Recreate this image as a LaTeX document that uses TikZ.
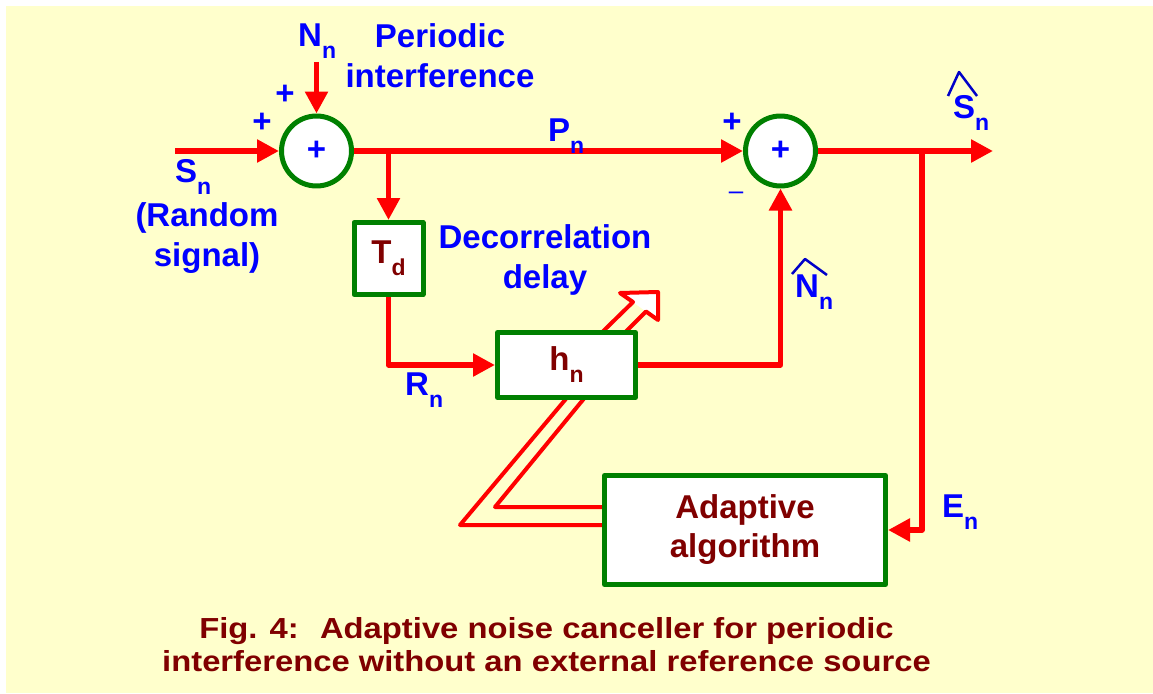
\documentclass[tikz,border=0pt]{standalone}
\usepackage{fontspec}
\setmainfont{Liberation Sans}
\newfontfamily\capfont[FakeStretch=1.13]{Liberation Sans}
\usetikzlibrary{arrows.meta}
\definecolor{sigred}{HTML}{FF0000}
\definecolor{blkgreen}{HTML}{008000}
\definecolor{lblblue}{HTML}{0000FF}
\definecolor{hatblue}{HTML}{0000C8}
\definecolor{txtmaroon}{HTML}{800000}
\definecolor{slidebg}{HTML}{FFFFCC}
% lowered subscript, as on the slide
\newcommand\sbs[1]{\raisebox{-12pt}{\fontsize{23}{23}\selectfont #1}}

\begin{document}
\begin{tikzpicture}[x=1pt,y=-1pt,line join=round,
  sig/.style={sigred,line width=5.5pt},
  tip/.style={-{Triangle[length=22pt,width=22pt]}},
  sumj/.style={circle,draw=blkgreen,fill=white,line width=5pt,minimum size=70pt,
    inner sep=0pt,text=lblblue,font=\fontsize{33}{33}\selectfont\bfseries},
  blk/.style={rectangle,draw=blkgreen,fill=white,line width=5pt,inner sep=0pt,
    text=txtmaroon,font=\fontsize{33}{39}\selectfont\bfseries},
  lbl/.style={lblblue,inner sep=0pt,font=\fontsize{33}{40}\selectfont\bfseries}]
  \useasboundingbox (0,0) rectangle (1153,693);
  \fill[slidebg] (6,6) rectangle (1153,693);

  % ---------------- adaptation arrow (under the filter box) ----------------
  \draw[sigred,line width=4pt] (604.5,525) -- (460,525) -- (573.4,390);
  \draw[sigred,line width=4pt] (604.5,507) -- (495,507) -- (591,390);
  \fill[white] (620,293) -- (658,292) -- (658,320) -- cycle;
  \draw[sigred,line width=4pt] (589,345) -- (633,302) -- (620,293) -- (658,292)
    -- (658,320) -- (646,311.5) -- (612.5,345);

  % ---------------- blocks ----------------
  \node[sumj] (sumin) at (316.5,151) {+};
  \node[sumj] (sumout) at (780.5,151) {+};
  \node[blk,minimum width=69pt,minimum height=72pt] (delay) at (388.5,258.5) {T\sbs{d}};
  \node[blk,minimum width=138pt,minimum height=65pt] (filt) at (566.5,365) {h\sbs{n}};
  \node[blk,minimum width=281pt,minimum height=109pt,align=center] (adapt) at (745,530)
    {Adaptive\\algorithm};

  % ---------------- signal paths ----------------
  \coordinate (sin) at (175,151);
  \coordinate (nin) at (316.5,62);
  \coordinate (tap) at (388.5,151);
  \coordinate (sout) at (993,151);
  \coordinate (etap) at (922,151);
  \draw[sig,tip] (sin) -- (sumin.west);
  \draw[sig,tip] (nin) -- (sumin.north);
  \draw[sig,tip] (sumin.east) -- (sumout.west);
  \draw[sig,tip] (tap) -- (delay.north);
  \draw[sig,tip] (delay.south) |- (filt.west);
  \draw[sig,tip] (filt.east) -| (sumout.south);
  \draw[sig,tip] (sumout.east) -- (sout);
  \draw[sig,tip] (etap) |- (adapt.east);

  % ---------------- labels ----------------
  \foreach \px/\py/\nm in {285/95/pn,262/123/ps,732/123/pp}
    \node[lbl] (\nm) at (\px,\py) {+};
  \node[lblblue,inner sep=0pt,font=\fontsize{26}{26}\selectfont,anchor=base] (mn) at (736,199) {--};
  \node[lbl,anchor=base west] (nlab) at (298,47) {N\sbs{n}};
  \node[lbl,align=center] (perlab) at (440,55.7) {Periodic\\interference};
  \node[lbl,anchor=base west] (slab) at (175,182) {S\sbs{n}};
  \node[lbl,align=center] (rndlab) at (207,238.5) {(Random\\signal)};
  \node[lbl,align=center] (declab) at (545,260) {Decorrelation\\delay};
  \node[lbl,anchor=base west] (plab) at (548,141) {P\sbs{n}};
  \node[lbl,anchor=base west] (rlab) at (405,395) {R\sbs{n}};
  \node[lbl,anchor=base west] (nhlab) at (795,297) {N\sbs{n}};
  \node[lbl,anchor=base west] (shlab) at (953,118) {S\sbs{n}};
  \node[lbl,anchor=base west] (elab) at (942,517) {E\sbs{n}};
  % hats
  \draw[hatblue,line width=2.5pt] (948,96) -- (959,72) -- (977,96);
  \draw[hatblue,line width=2.5pt] (792,274) -- (805,259) -- (827,275);

  % ---------------- caption ----------------
  \node[text=txtmaroon,inner sep=0pt,align=center,font=\capfont\fontsize{29}{33}\selectfont\bfseries]
    (cap) at (546.5,645) {Fig. 4:~ Adaptive noise canceller for periodic\\
    interference without an external reference source};
\end{tikzpicture}
\end{document}
